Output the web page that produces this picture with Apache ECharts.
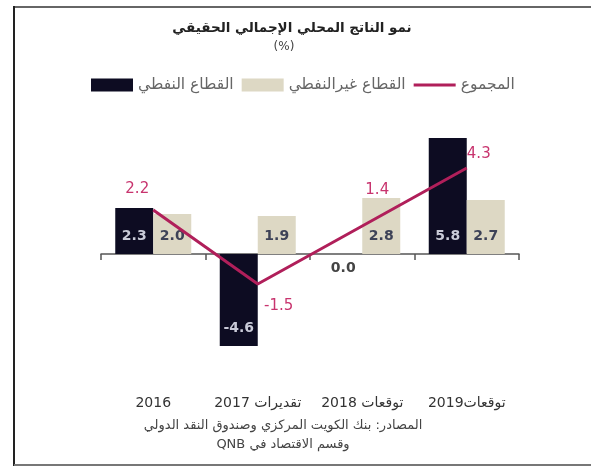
<!DOCTYPE html>
<html>
<head>
<meta charset="utf-8">
<script src="https://cdn.jsdelivr.net/npm/echarts@6/dist/echarts.min.js"></script>
<style>
html,body{margin:0;padding:0;background:#fff;}
#chart{width:591px;height:467px;}
</style>
</head>
<body>
<div id="chart"></div>
<script>
var categories = ['2016', 'تقديرات 2017', 'توقعات 2018', 'توقعات2019'];
var oilValues = [2.3, -4.6, 0.0, 5.8];
var nonOilValues = [2.0, 1.9, 2.8, 2.7];
var totalValues = [2.2, -1.5, 1.4, 4.3];
var seriesNames = ['القطاع النفطي', 'القطاع غيرالنفطي', 'المجموع'];
var titleText = 'نمو الناتج المحلي الإجمالي الحقيقي';
var subtitleText = '(%)';
var sourceLines = ['المصادر: بنك الكويت المركزي وصندوق النقد الدولي', 'وقسم الاقتصاد في QNB'];

var AR = '"DejaVu Sans", "Noto Sans", sans-serif';
function rtl(s) { return '\u2067' + s + '\u2069'; }
var totalLabelOffsets = [[-16, -21], [21, 22], [15, -36], [12, -14]];

var chart = echarts.init(document.getElementById('chart'), null, {renderer: 'canvas'});

var oilData = oilValues.map(function (v) {
  if (v === 0) {
    return {value: v, label: {position: 'bottom', distance: 7, color: '#444', fontWeight: 'bold'}};
  }
  return v;
});

var totalData = totalValues.map(function (v, i) {
  return {value: v, label: {offset: totalLabelOffsets[i]}};
});

chart.setOption({
  animation: false,
  backgroundColor: '#fff',
  title: [
    {text: rtl(titleText), left: 287, top: 16, textAlign: 'center',
     textStyle: {fontFamily: AR, fontSize: 13.5, fontWeight: 'bold', color: '#222'}},
    {text: subtitleText, left: 279, top: 36, textAlign: 'center',
     textStyle: {fontFamily: AR, fontSize: 12, fontWeight: 'normal', color: '#444'}},
    {text: sourceLines.map(rtl).join('\n'), left: 278, top: 411, textAlign: 'center',
     textStyle: {fontFamily: AR, fontSize: 13, fontWeight: 'normal', color: '#444', lineHeight: 19}}
  ],
  legend: {
    left: 91, top: 77, padding: 0,
    itemWidth: 42, itemHeight: 13, itemGap: 8,
    formatter: function (n) { return rtl(n); },
    textStyle: {fontFamily: AR, fontSize: 15.5, color: '#666'},
    data: [
      {name: seriesNames[0], icon: 'rect'},
      {name: seriesNames[1], icon: 'rect'},
      {name: seriesNames[2], icon: 'path://M0,0h0.01v0.01h-0.01Z M0,5h45v3h-45Z M44.99,12.99h0.01v0.01h-0.01Z'}
    ]
  },
  grid: {left: 101, right: 72, top: 114, height: 280, outerBoundsMode: 'none', containLabel: false},
  xAxis: [
    {
      type: 'category',
      data: categories,
      axisLine: {onZero: true, lineStyle: {color: '#555', width: 1.5}},
      axisTick: {show: true, length: 6, lineStyle: {color: '#555', width: 1.5}},
      axisLabel: {show: false},
      splitLine: {show: false}
    },
    {
      type: 'category',
      position: 'bottom',
      data: categories,
      axisLine: {show: false, onZero: false},
      axisTick: {show: false},
      axisLabel: {show: true, margin: 2, interval: 0, fontFamily: AR, fontSize: 14, color: '#333',
                  formatter: function (v) { return rtl(v); }},
      splitLine: {show: false}
    }
  ],
  yAxis: {
    type: 'value', min: -7, max: 7, show: false,
    splitLine: {show: false}
  },
  series: [
    {
      name: seriesNames[0], type: 'bar', data: oilData,
      barWidth: 38, barGap: '0%',
      itemStyle: {color: '#0d0c22'},
      label: {show: true, position: 'insideBottom', distance: 11, fontFamily: AR, fontSize: 14,
              fontWeight: 'bold', color: '#c9cbd8', formatter: function (p) { return p.value.toFixed(1); }}
    },
    {
      name: seriesNames[1], type: 'bar', data: nonOilValues,
      barWidth: 38, barGap: '0%',
      itemStyle: {color: '#ddd8c4'},
      label: {show: true, position: 'insideBottom', distance: 11, fontFamily: AR, fontSize: 14,
              fontWeight: 'bold', color: '#3d4257', formatter: function (p) { return p.value.toFixed(1); }}
    },
    {
      name: seriesNames[2], type: 'line', data: totalData,
      symbol: 'circle', symbolSize: 0.1, showSymbol: true,
      itemStyle: {color: '#b01f5a'},
      lineStyle: {color: '#b01f5a', width: 3},
      z: 5,
      label: {show: true, position: 'inside', fontFamily: AR, fontSize: 15,
              color: '#c8346e', formatter: function (p) { return p.value.toFixed(1); }}
    }
  ],
  graphic: [
    {type: 'line', shape: {x1: 14, y1: 7, x2: 591, y2: 7}, style: {stroke: '#666', lineWidth: 2}, silent: true},
    {type: 'line', shape: {x1: 14, y1: 6, x2: 14, y2: 466}, style: {stroke: '#222', lineWidth: 2}, silent: true},
    {type: 'line', shape: {x1: 14, y1: 465, x2: 591, y2: 465}, style: {stroke: '#777', lineWidth: 2}, silent: true}
  ]
});
</script>
</body>
</html>
